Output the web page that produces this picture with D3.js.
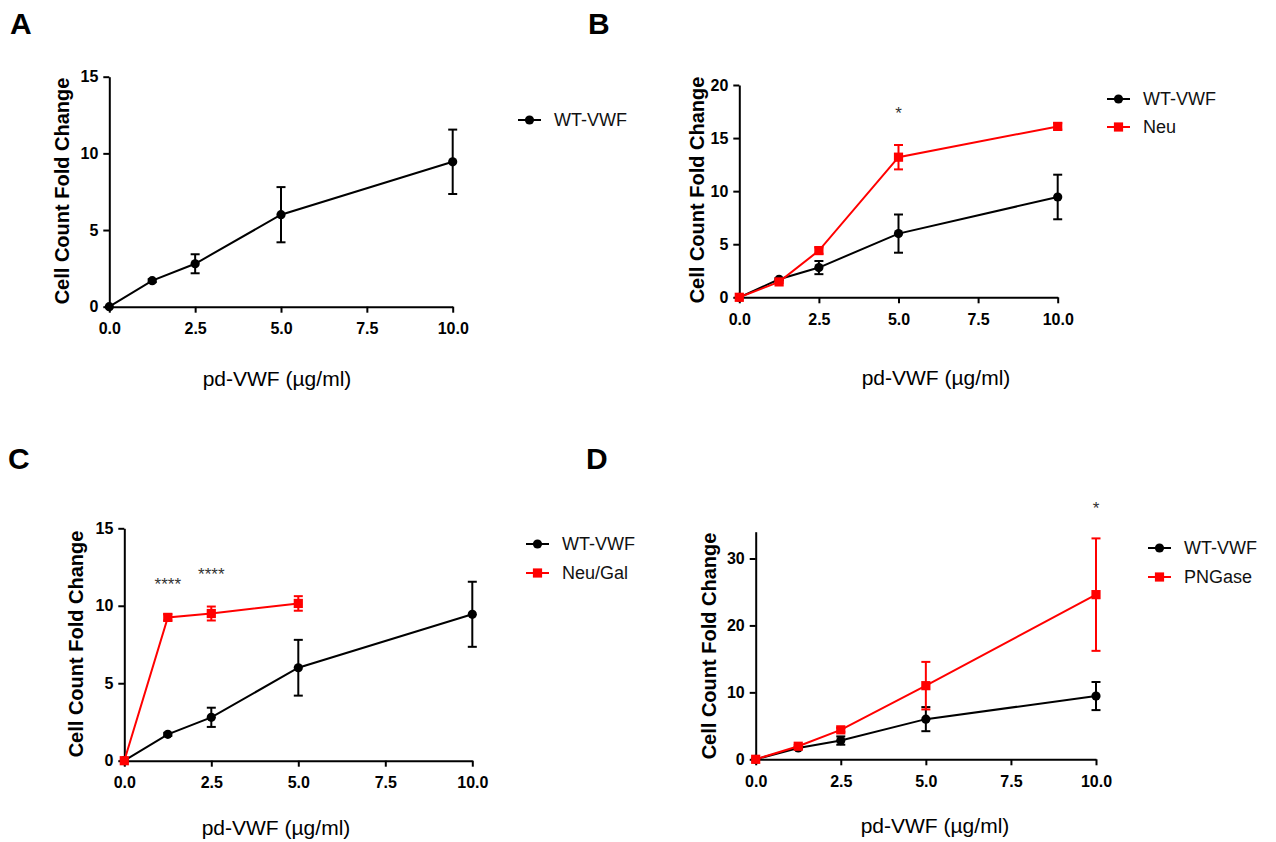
<!DOCTYPE html>
<html>
<head>
<meta charset="utf-8">
<title>pd-VWF cell count fold change</title>
<style>
  body { margin: 0; background: #fff; }
  svg { display: block; font-family: "Liberation Sans", Arial, sans-serif; }
  .axis path, .axis line { stroke: #000; stroke-width: 2; }
  .axis text { font-size: 16px; font-weight: bold; fill: #000; }
  .ylab { font-size: 20px; font-weight: bold; }
  .xlab { font-size: 21px; }
  .legend text { font-size: 18px; fill: #111; }
  .letter { font-size: 30px; font-weight: bold; }
  .sig { font-size: 17px; fill: #333; }
</style>
</head>
<body>
<script src="https://cdn.jsdelivr.net/npm/d3@7"></script>
<script>
// doses of pd-VWF (ug/ml)
var doses = [0, 1.25, 2.5, 5, 10];
var dosesGal = [0, 1.25, 2.5, 5];

// WT-VWF, same in every panel
var wtMean = [0, 1.7, 2.8, 6.0, 9.45];
var wtSem  = [0, 0.1, 0.62, 1.8, 2.1];

// treated series
var neuMean = [0, 1.45, 4.4, 13.2, 16.1];
var neuSem  = [0, 0.1, 0.3, 1.15, 0.3];
var galMean = [0, 9.25, 9.5, 10.15];
var galSem  = [0, 0.2, 0.45, 0.47];
var pngMean = [0, 1.95, 4.4, 11.0, 24.6];
var pngSem  = [0, 0.2, 0.3, 3.55, 8.4];

var xTicks = [0, 2.5, 5, 7.5, 10];
var yTicks15 = [0, 5, 10, 15];
var yTicks20 = [0, 5, 10, 15, 20];
var yTicks30 = [0, 10, 20, 30];

// significance marks: x dose, y value (centre of the stars)
var sigB = [{x: 5, y: 17.8, t: "*"}];
var sigC = [{x: 1.25, y: 11.66, t: "****"}, {x: 2.5, y: 12.3, t: "****"}];
var sigD = [{x: 10, y: 38.2, t: "*"}];

var RED = "#ff0000";

function zip(xs, m, s) {
  return xs.map(function (x, i) { return {x: x, y: m[i], e: s[i]}; });
}

var panels = [
  {letter: "A", lx: 10, ly: 34, left: 109.3, right: 452.7, bottom: 306.7, top: 76.7, ymax: 15, yticks: yTicks15,
   ylabX: 62, ylabY: 191, xlabX: 277, xlabY: 378, legX: 518, legY: 120, legGap: 28,
   series: [{name: "WT-VWF", data: zip(doses, wtMean, wtSem), color: "#000", shape: "circle"}], sig: []},
  {letter: "B", lx: 588, ly: 34, left: 739.3, right: 1057.7, bottom: 297.3, top: 85, ymax: 20, yticks: yTicks20,
   ylabX: 697, ylabY: 190, xlabX: 936, xlabY: 377, legX: 1107, legY: 99, legGap: 28,
   series: [{name: "WT-VWF", data: zip(doses, wtMean, wtSem), color: "#000", shape: "circle"},
            {name: "Neu", data: zip(doses, neuMean, neuSem), color: RED, shape: "square"}], sig: sigB},
  {letter: "C", lx: 8, ly: 469, left: 124.3, right: 472.3, bottom: 760.7, top: 528.3, ymax: 15, yticks: yTicks15,
   ylabX: 76, ylabY: 644, xlabX: 276, xlabY: 827, legX: 526, legY: 544, legGap: 29,
   series: [{name: "WT-VWF", data: zip(doses, wtMean, wtSem), color: "#000", shape: "circle"},
            {name: "Neu/Gal", data: zip(dosesGal, galMean, galSem), color: RED, shape: "square"}], sig: sigC},
  {letter: "D", lx: 586, ly: 469, left: 755.7, right: 1096, bottom: 759.3, top: 531.7, ymax: 34, yticks: yTicks30,
   ylabX: 709, ylabY: 646, xlabX: 935, xlabY: 825, legX: 1148, legY: 548, legGap: 29,
   series: [{name: "WT-VWF", data: zip(doses, wtMean, wtSem), color: "#000", shape: "circle"},
            {name: "PNGase", data: zip(doses, pngMean, pngSem), color: RED, shape: "square"}], sig: sigD}
];

var svg = d3.select("body").append("svg")
    .attr("width", 1276)
    .attr("height", 842);

function marker(g, shape, color, cx, cy) {
  if (shape === "circle") {
    g.append("circle").attr("cx", cx).attr("cy", cy).attr("r", 4.6).attr("fill", color);
  } else {
    g.append("rect").attr("x", cx - 4.6).attr("y", cy - 4.6).attr("width", 9.2).attr("height", 9.2).attr("fill", color);
  }
}

panels.forEach(function (p) {
  var x = d3.scaleLinear().domain([0, 10]).range([p.left, p.right]);
  var y = d3.scaleLinear().domain([0, p.ymax]).range([p.bottom, p.top]);

  svg.append("text").attr("class", "letter").attr("x", p.lx).attr("y", p.ly).text(p.letter);

  svg.append("g").attr("class", "axis")
      .attr("transform", "translate(0," + p.bottom + ")")
      .call(d3.axisBottom(x).tickValues(xTicks).tickSize(6).tickSizeOuter(0).tickPadding(10)
        .tickFormat(d3.format(".1f")));
  svg.append("g").attr("class", "axis")
      .attr("transform", "translate(" + p.left + ",0)")
      .call(d3.axisLeft(y).tickValues(p.yticks).tickSize(6).tickSizeOuter(0).tickPadding(5));

  svg.append("text").attr("class", "ylab")
      .attr("transform", "translate(" + p.ylabX + "," + p.ylabY + ") rotate(-90)")
      .attr("text-anchor", "middle").attr("dy", "0.36em")
      .text("Cell Count Fold Change");
  svg.append("text").attr("class", "xlab")
      .attr("x", p.xlabX).attr("y", p.xlabY)
      .attr("text-anchor", "middle").attr("dy", "0.36em")
      .text("pd-VWF (µg/ml)");

  var line = d3.line().x(function (d) { return x(d.x); }).y(function (d) { return y(d.y); });

  p.series.forEach(function (s) {
    var g = svg.append("g");
    s.data.forEach(function (d) {
      if (d.e <= 0) return;
      var y1 = y(d.y + d.e), y2 = y(d.y - d.e), cx = x(d.x);
      g.append("line").attr("x1", cx).attr("x2", cx).attr("y1", y1).attr("y2", y2)
        .attr("stroke", s.color).attr("stroke-width", 2);
      [y1, y2].forEach(function (yy) {
        g.append("line").attr("x1", cx - 4.5).attr("x2", cx + 4.5).attr("y1", yy).attr("y2", yy)
          .attr("stroke", s.color).attr("stroke-width", 2);
      });
    });
    g.append("path").datum(s.data).attr("d", line)
      .attr("fill", "none").attr("stroke", s.color).attr("stroke-width", 2);
    s.data.forEach(function (d) { marker(g, s.shape, s.color, x(d.x), y(d.y)); });
  });

  p.sig.forEach(function (m) {
    svg.append("text").attr("class", "sig")
      .attr("x", x(m.x)).attr("y", y(m.y)).attr("dy", "0.6em")
      .attr("text-anchor", "middle").text(m.t);
  });

  var leg = svg.append("g").attr("class", "legend");
  p.series.forEach(function (s, i) {
    var ly = p.legY + i * p.legGap;
    leg.append("line").attr("x1", p.legX).attr("x2", p.legX + 23).attr("y1", ly).attr("y2", ly)
      .attr("stroke", s.color).attr("stroke-width", 2);
    marker(leg, s.shape, s.color, p.legX + 11.5, ly);
    leg.append("text").attr("x", p.legX + 36).attr("y", ly).attr("dy", "0.36em").text(s.name);
  });
});
</script>
</body>
</html>
